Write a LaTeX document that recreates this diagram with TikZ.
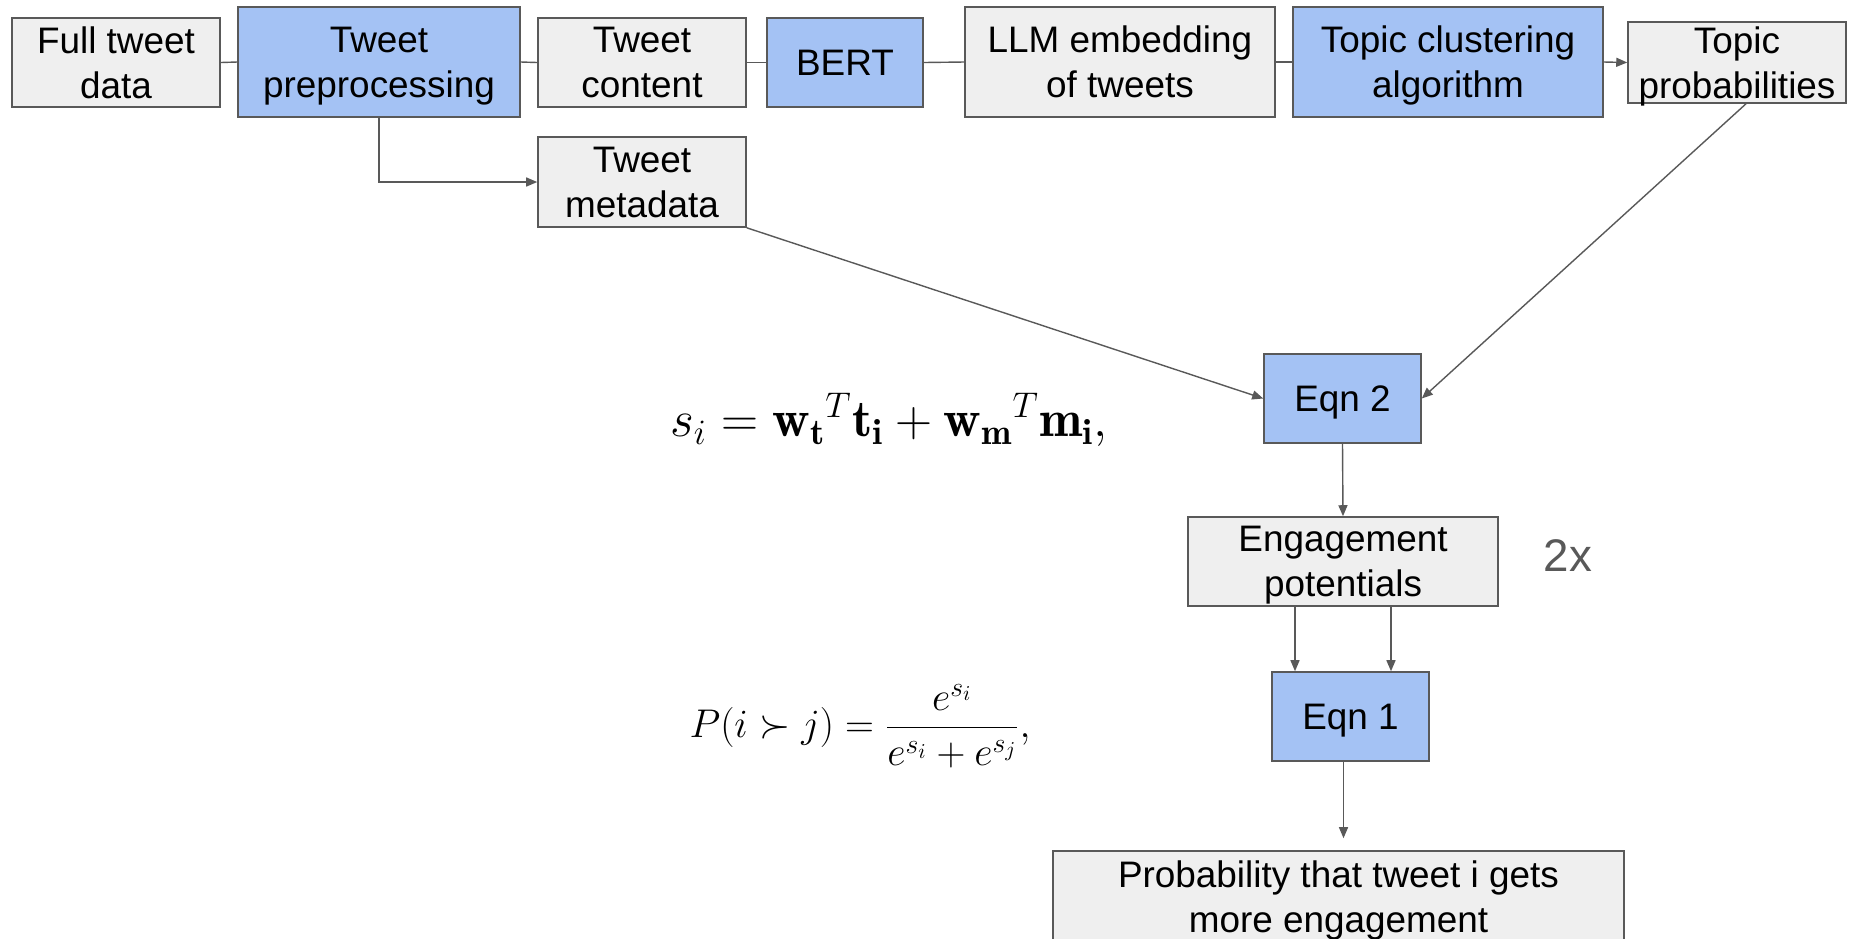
\documentclass[tikz,border=0pt]{standalone}
\usepackage{fontspec}
\newfontfamily\boxfont{Liberation Sans}
\usetikzlibrary{arrows.meta}
\definecolor{boxgray}{HTML}{EFEFEF}
\definecolor{boxblue}{HTML}{A4C2F4}
\definecolor{linegray}{HTML}{595959}
\begin{document}
\begin{tikzpicture}[x=0.02cm,y=-0.02cm,>={Triangle[length=0.22cm,width=0.18cm]},
		every node/.style={font=\boxfont\fontsize{21}{25.5}\selectfont},
		box/.style={draw=linegray,line width=0.9pt,fill=boxgray,align=center,inner sep=0pt,text depth=-0.16cm},
		bluebox/.style={box,fill=boxblue},
		link/.style={draw=linegray,line width=0.8pt}]
		\useasboundingbox (0,0) rectangle (1864,938);
		% top row
		\node[box,minimum width=4.16cm,minimum height=1.78cm] (full) at (116,62.5) {Full tweet\\data};
		\node[bluebox,minimum width=5.64cm,minimum height=2.2cm] (pre) at (379,62) {Tweet\\preprocessing};
		\node[box,minimum width=4.16cm,minimum height=1.78cm] (content) at (642,62.5) {Tweet\\content};
		\node[bluebox,minimum width=3.12cm,minimum height=1.78cm] (bert) at (845,62.5) {BERT};
		\node[box,minimum width=6.2cm,minimum height=2.2cm] (llm) at (1120,62) {LLM embedding\\of tweets};
		\node[bluebox,minimum width=6.2cm,minimum height=2.2cm] (clust) at (1448,62) {Topic clustering\\algorithm};
		\node[box,minimum width=4.36cm,minimum height=1.62cm] (prob) at (1737,62.5) {Topic\\probabilities};
		\node[box,minimum width=4.16cm,minimum height=1.8cm] (meta) at (642,182) {Tweet\\metadata};
		% model part
		\node[bluebox,minimum width=3.14cm,minimum height=1.78cm] (eqntwo) at (1342.5,398.5) {Eqn 2};
		\node[box,minimum width=6.2cm,minimum height=1.78cm] (eng) at (1343,561.5) {Engagement\\potentials};
		\node[text=linegray,font=\boxfont\fontsize{26}{30}\selectfont] (twice) at (1568,556) {2x};
		\node[bluebox,minimum width=3.14cm,minimum height=1.78cm] (eqnone) at (1350.5,716.5) {Eqn 1};
		\node[box,minimum width=11.42cm,minimum height=1.84cm] (out) at (1338.5,897) {Probability that tweet i gets\\more engagement};
		% formulas
		\node[scale=1.41] (score) at (889,420) {$s_i = {\mathbf{w_t}}^T\mathbf{t_i} + {\mathbf{w_m}}^T\mathbf{m_i},$};
		\node[scale=1.1] (pref) at (860,726) {$\displaystyle P(i \succ j) = \frac{e^{s_i}}{e^{s_i} + e^{s_j}},$};
		% connectors
		\draw[link] (full.east) -- (pre.west);
		\draw[link] (pre.east) -- (content.west);
		\draw[link] (content.east) -- (bert.west);
		\draw[link] (bert.east) -- (llm.west);
		\draw[link] (llm.east) -- (clust.west);
		\draw[link,->] (clust.east) -- (prob.west);
		\draw[link,->] (pre.south) |- (meta.west);
		\draw[link,->] (meta.south east) -- (eqntwo.west);
		\draw[link,->] ([xshift=0.18cm]prob.south) -- (eqntwo.east);
		\draw[link,->] (eqntwo.south) -- (eng.north);
		\draw[link,->] ([xshift=-0.96cm]eng.south) -- ([xshift=-0.96cm]eng.south |- eqnone.north);
		\draw[link,->] ([xshift=0.96cm]eng.south) -- ([xshift=0.96cm]eng.south |- eqnone.north);
		\draw[link,->,shorten >=0.24cm] ([xshift=-0.14cm]eqnone.south) -- ([xshift=-0.14cm]eqnone.south |- out.north);
\end{tikzpicture}
\end{document}
